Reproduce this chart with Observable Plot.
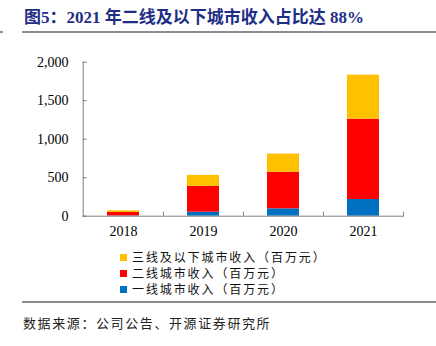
<!DOCTYPE html>
<html><head><meta charset="utf-8">
<script src="https://cdn.jsdelivr.net/npm/d3@7"></script>
<script src="https://cdn.jsdelivr.net/npm/@observablehq/plot@0.6"></script>
<style>
body{margin:0;background:#fff;}
#c{position:relative;width:436px;height:346px;overflow:hidden;background:#fff;}
#title{position:absolute;left:24px;top:7px;font-family:"Liberation Serif","Noto Sans CJK SC";font-weight:bold;font-size:17px;color:#1f2f86;white-space:nowrap;line-height:22px;}
.hr{position:absolute;height:2px;background:#8c8c8c;}
#plot{position:absolute;left:0;top:40px;}
#legend{position:absolute;left:120px;top:249px;font-family:"Noto Sans CJK SC";font-size:12px;letter-spacing:1.9px;color:#111;}
.li{height:16px;line-height:14px;white-space:nowrap;display:flex;align-items:center;}
.sw{width:7px;height:7px;display:inline-block;margin-right:5px;}
#src{position:absolute;left:23px;top:314px;font-family:"Noto Sans CJK SC";font-size:13px;letter-spacing:1.6px;color:#222;white-space:nowrap;line-height:18px;}
</style></head><body>
<div id="c">
<div id="title">图5：2021 年二线及以下城市收入占比达 88%</div>
<div class="hr" style="left:22px;top:31px;width:414px;"></div>
<div class="hr" style="left:0;top:31px;width:3px;"></div>
<div id="plot"></div>
<div id="legend"></div>
<div class="hr" style="left:22px;top:301px;width:414px;"></div>
<div id="src">数据来源：公司公告、开源证券研究所</div>
</div>
<script>
const years = ["2018", "2019", "2020", "2021"];
const tier1 = [3, 52, 96, 217];
const tier2 = [45, 335, 473, 1042];
const tier3 = [22, 143, 238, 573];
const seriesNames = ["一线城市收入（百万元）", "二线城市收入（百万元）", "三线及以下城市收入（百万元）"];
const seriesColors = ["#0070C0", "#FF0000", "#FFC000"];
const yTicks = [0, 500, 1000, 1500, 2000];

const seriesVals = [tier1, tier2, tier3];
const data = years.flatMap((yr, i) => seriesNames.map((s, k) => ({year: yr, s, v: seriesVals[k][i]})));

const W = 436, H = 210, ML = 82.7, MR = 33;
const halfStep = (W - ML - MR) / (years.length) / 2;

const chart = Plot.plot({
  width: W, height: H,
  marginLeft: ML, marginRight: MR, marginTop: 21.7, marginBottom: 34.3,
  x: {domain: years, paddingInner: 0.6, paddingOuter: 0.3, label: null},
  y: {domain: [0, 2000], label: null},
  color: {domain: seriesNames, range: seriesColors},
  style: {fontFamily: "Liberation Serif", color: "#000", background: "#fff"},
  marks: [
    Plot.barY(data, {x: "year", y: "v", fill: "s", order: seriesNames}),
    Plot.frame({anchor: "left", stroke: "#7f7f7f"}),
    Plot.frame({anchor: "bottom", stroke: "#7f7f7f"}),
    Plot.axisY({ticks: yTicks, tickSize: -4, fill: "none", stroke: "#7f7f7f", label: null}),
    Plot.axisY({ticks: yTicks, tickSize: 0, tickPadding: 14.7, tickFormat: d3.format(","), label: null, fill: "#000", fontSize: 14}),
    Plot.axisX({tickSize: -4, fill: "none", stroke: "#7f7f7f", dx: halfStep, label: null}),
    Plot.axisX({tickSize: 0, tickPadding: 10, label: null, fill: "#000", fontSize: 14})
  ]
});
document.getElementById("plot").appendChild(chart);

const legend = document.getElementById("legend");
[2, 1, 0].forEach(k => {
  const row = document.createElement("div");
  row.className = "li";
  const sw = document.createElement("span");
  sw.className = "sw";
  sw.style.background = seriesColors[k];
  row.appendChild(sw);
  row.appendChild(document.createTextNode(seriesNames[k]));
  legend.appendChild(row);
});
</script>
</body></html>
